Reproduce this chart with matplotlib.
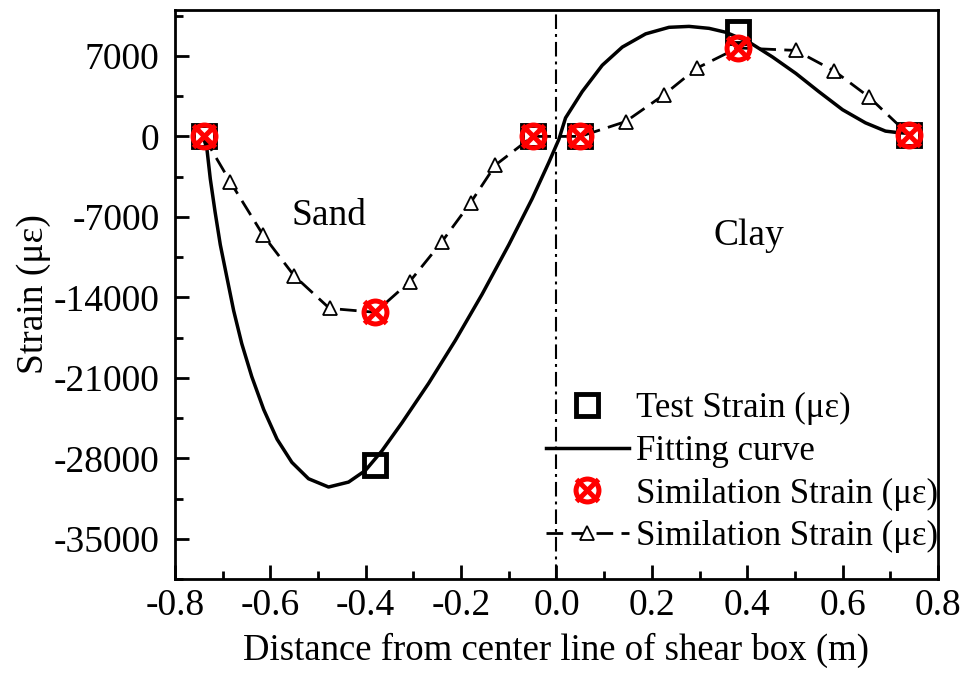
import numpy as np
import matplotlib
matplotlib.use('Agg')
import matplotlib.pyplot as plt
from matplotlib.legend_handler import HandlerTuple

plt.rcParams['font.family'] = ['Liberation Serif', 'DejaVu Serif']
plt.rcParams['axes.unicode_minus'] = False

# test strain (black squares)
test_x = [-0.74, -0.38, -0.05, 0.05, 0.38, 0.74]
test_y = [0, -28600, 0, 0, 9100, 100]

# simulation strain at the gauges (red circle-x)
sim_x = [-0.74, -0.38, -0.05, 0.05, 0.38, 0.74]
sim_y = [0, -15300, 0, 0, 7700, 100]

# simulation strain profile (dashed with triangles)
tri_x = [-0.74, -0.684, -0.615, -0.550, -0.476, -0.38, -0.308, -0.241, -0.180, -0.128,
         -0.05, 0.05, 0.145, 0.225, 0.294, 0.38, 0.502, 0.583, 0.655, 0.74]
tri_y = [0, -3960, -8600, -12130, -14960, -15300, -12640, -9200, -5760, -2490,
         0, 0, 1290, 3610, 5930, 7700, 7480, 5680, 3440, 100]
tri_skip = [0, 5, 10, 11, 15, 19]   # these sit under the red markers

# fitting curve
fit_x = [-0.741, -0.733, -0.726, -0.716, -0.705, -0.691, -0.677, -0.660, -0.639, -0.614,
         -0.586, -0.555, -0.520, -0.478, -0.436, -0.401, -0.366, -0.324, -0.268, -0.212,
         -0.156, -0.100, -0.051, -0.016, 0.005, 0.019, 0.054, 0.096, 0.138, 0.187,
         0.236, 0.278, 0.320, 0.355, 0.404, 0.453, 0.502, 0.550, 0.600, 0.648,
         0.690, 0.718, 0.741]
fit_y = [0, -1120, -3700, -6560, -9430, -12300, -15160, -18030, -20900, -23760,
         -26340, -28350, -29780, -30500, -30070, -29070, -27350, -24910, -21470, -17740,
         -13730, -9430, -5420, -2260, -260, 1610, 3900, 6190, 7770, 8920,
         9490, 9570, 9400, 9060, 8200, 6910, 5480, 3900, 2320, 1180,
         460, 320, 260]

xticks = [-0.8, -0.6, -0.4, -0.2, 0.0, 0.2, 0.4, 0.6, 0.8]
yticks = [-35000, -28000, -21000, -14000, -7000, 0, 7000]

fig = plt.figure(figsize=(9.75, 6.73), dpi=100)
ax = fig.add_axes([0.1795, 0.1397, 0.7825, 0.8455])

ax.axvline(0, color='k', lw=1.5, ls=(0, (7, 2.4, 1.4, 2.4)), zorder=1)

fit, = ax.plot(fit_x, fit_y, color='k', lw=2.5, solid_joinstyle='round', zorder=2)

show = [i for i in range(len(tri_x)) if i not in tri_skip]
tri, = ax.plot(tri_x, tri_y, color='k', lw=2.0, ls=(0, (6, 3)),
               marker='^', ms=10, mfc='white', mec='k', mew=1.3,
               markevery=show, zorder=3)

sq, = ax.plot(test_x, test_y, ls='none', marker='s', ms=16, mfc='none',
              mec='k', mew=3.5, zorder=4)

c1, = ax.plot(sim_x, sim_y, ls='none', marker='o', ms=16.5, mfc='none',
              mec='#ff0000', mew=3.6, zorder=5)
c2, = ax.plot(sim_x, sim_y, ls='none', marker='x', ms=16, mec='#ff0000',
              mew=3.6, zorder=5)

ax.set_xlim(-0.8, 0.8)
ax.set_ylim(-38000, 11000)
ax.set_xticks(xticks)
ax.set_xticklabels(['%.1f' % v for v in xticks])
ax.set_yticks(yticks)
ax.set_xticks(np.arange(-0.7, 0.8, 0.2), minor=True)
ax.set_yticks(np.arange(-38500, 11000, 7000), minor=True)

ax.tick_params(which='both', direction='in', width=2, labelsize=27)
ax.tick_params(which='major', length=10)
ax.tick_params(which='minor', length=6)
ax.tick_params(axis='x', pad=7)
ax.tick_params(axis='y', pad=11)
for s in ax.spines.values():
    s.set_linewidth(2)

ax.set_xlabel('Distance from center line of shear box (m)', fontsize=26.5, labelpad=7)
ax.set_ylabel('Strain (με)', fontsize=27, labelpad=2)

ax.text(-0.478, -6900, 'Sand', fontsize=27, ha='center', va='center')
ax.text(0.403, -8600, 'Clay', fontsize=27, ha='center', va='center')

ax.legend([sq, fit, (c1, c2), tri],
          ['Test Strain (με)', 'Fitting curve', 'Similation Strain (με)',
           'Similation Strain (με)'],
          handler_map={tuple: HandlerTuple(ndivide=1)},
          loc='lower right', bbox_to_anchor=(1.0, 0.045), frameon=False,
          fontsize=25, handlelength=2.4, handletextpad=0.2,
          labelspacing=0.28, borderpad=0, borderaxespad=0, numpoints=1)

fig.savefig('out.png', dpi=100)
